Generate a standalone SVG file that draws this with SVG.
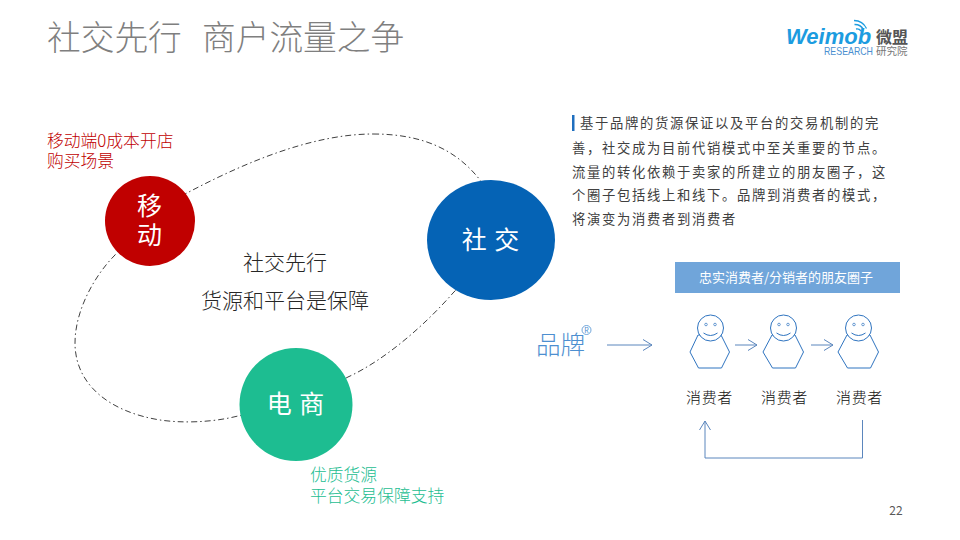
<svg xmlns="http://www.w3.org/2000/svg" width="960" height="540" viewBox="0 0 960 540">
<defs>
<marker id="arr" markerUnits="userSpaceOnUse" markerWidth="12" markerHeight="14" refX="10" refY="6" orient="auto"><path d="M1 0.5L10 6L1 11.5" fill="none" stroke="#5b86bd" stroke-width="1"/></marker>
</defs>
<style>
text{font-family:"Noto Sans CJK SC","Noto Sans",sans-serif}
.body{font-size:13.33px;fill:#404040;letter-spacing:1.67px}
.cap{font-size:15px;fill:#111;text-anchor:middle;letter-spacing:.7px;font-weight:300}
.mid{font-size:21px;fill:#262626;text-anchor:middle;font-weight:300}
.node{font-size:25px;fill:#fff;text-anchor:middle;letter-spacing:1px}
.red{font-size:16.8px;fill:#c00000;font-weight:300}
.grn{font-size:16.8px;fill:#1dbd91;font-weight:300}
.title{font-size:33.7px;fill:#7f7f7f;font-weight:300}
.person{fill:#fff;stroke:#2f74c0;stroke-width:1}
.eye{fill:none;stroke:#2f74c0;stroke-width:.7}
.flow{fill:none;stroke:#5b86bd;stroke-width:1}
.latin{font-family:"Liberation Sans",sans-serif}
</style>
<rect width="960" height="540" fill="#fff"/>
<text class="title" x="47" y="50">社交先行</text>
<text class="title" x="202" y="50">商户流量之争</text>
<g id="logo">
<text class="latin" x="786" y="44" font-size="22" font-weight="700" font-style="italic" fill="#1c9ce0">Weimob</text>
<text x="876" y="43" font-size="16" font-weight="700" fill="#555">微盟</text>
<text class="latin" x="824" y="55" font-size="10.500" fill="#4b8fd0" textLength="49" lengthAdjust="spacingAndGlyphs">RESEARCH</text>
<text x="876" y="55" font-size="10.500" fill="#777">研究院</text>
<path d="M856 29a5 5 0 0 1 5 2M854.500 24.500a10 10 0 0 1 9 5M854 20.500a14 14 0 0 1 12.500 8" fill="none" stroke="#1c9ce0" stroke-width="1.300"/>
</g>
<g id="connectors">
<path d="M373 134C420 134 455 148 480 180C500 220 490 255 453 293C425 325 385 360 348 377C320 392 280 408 238 416C210 423 180 423 160 420C110 412 75 385 75 343C75 310 95 275 115 255C135 228 160 207 187 193C240 165 310 134 373 134Z" fill="none" stroke="#404040" stroke-width="1" stroke-dasharray="6 3 1.500 3"/>
<path class="flow" d="M607 345H652" marker-end="url(#arr)"/>
<path class="flow" d="M735 345H757" marker-end="url(#arr)"/>
<path class="flow" d="M811 345H833" marker-end="url(#arr)"/>
<path class="flow" d="M862.500 420V458H705V421" marker-end="url(#arr)"/>
</g>
<g id="node-mobile"><circle cx="150" cy="221" r="45" fill="#c00000"/><text class="node" x="150" y="215">移</text><text class="node" x="150" y="244">动</text></g>
<g id="node-social"><ellipse cx="491" cy="240" rx="64" ry="60" fill="#0563b5"/><text class="node" x="491" y="249">社 交</text></g>
<g id="node-ecom"><circle cx="296" cy="404.500" r="56.500" fill="#1dbd91"/><text class="node" x="296" y="413">电 商</text></g>
<text class="red" x="47" y="147">移动端0成本开店</text>
<text class="red" x="47" y="167">购买场景</text>
<text class="grn" x="310" y="481">优质货源</text>
<text class="grn" x="310" y="502">平台交易保障支持</text>
<text class="mid" x="285" y="270">社交先行</text>
<text class="mid" x="285" y="308">货源和平台是保障</text>
<rect x="572" y="115" width="2.500" height="16" fill="#1f6fbf"/>
<text class="body" x="580" y="128">基于品牌的货源保证以及平台的交易机制的完</text>
<text class="body" x="572" y="153">善，社交成为目前代销模式中至关重要的节点。</text>
<text class="body" x="572" y="176.500">流量的转化依赖于卖家的所建立的朋友圈子，这</text>
<text class="body" x="572" y="200">个圈子包括线上和线下。品牌到消费者的模式，</text>
<text class="body" x="572" y="223.500">将演变为消费者到消费者</text>
<g id="banner"><rect x="675" y="262" width="225" height="31" fill="#70a5da"/><text x="786" y="282" font-size="13" fill="#fff" text-anchor="middle">忠实消费者/分销者的朋友圈子</text></g>
<g id="brand">
<text x="536" y="354" font-size="24.500" font-weight="300" fill="#4d8fd0">品牌</text>
<circle cx="586.500" cy="330" r="4.500" fill="none" stroke="#4d8fd0" stroke-width=".8"/>
<text x="586.500" y="333" font-size="7" fill="#4d8fd0" text-anchor="middle">R</text>
</g>
<g id="person-1"><path class="person" d="M698 335H721L729.500 352L721.500 368H698.500L690 352Z"/><circle class="person" cx="710.500" cy="328" r="13"/><circle class="eye" cx="706" cy="324.500" r="1.300"/><circle class="eye" cx="715" cy="324.500" r="1.300"/><path class="eye" style="stroke-width:1" d="M703.500 333Q710.500 338 717.500 333"/></g>
<g id="person-2"><path class="person" d="M772 335H795L803.500 352L795.500 368H772.500L763 352Z"/><circle class="person" cx="783.500" cy="328" r="13"/><circle class="eye" cx="779" cy="324.500" r="1.300"/><circle class="eye" cx="788" cy="324.500" r="1.300"/><path class="eye" style="stroke-width:1" d="M776.500 333Q783.500 338 790.500 333"/></g>
<g id="person-3"><path class="person" d="M847 335H870L878.500 352L870.500 368H847.500L838 352Z"/><circle class="person" cx="858.500" cy="328" r="13"/><circle class="eye" cx="854" cy="324.500" r="1.300"/><circle class="eye" cx="863" cy="324.500" r="1.300"/><path class="eye" style="stroke-width:1" d="M851.500 333Q858.500 338 865.500 333"/></g>
<text class="cap" x="709.500" y="403">消费者</text>
<text class="cap" x="784.500" y="403">消费者</text>
<text class="cap" x="859.500" y="403">消费者</text>
<text x="896" y="515" font-size="12" fill="#595959" text-anchor="middle">22</text>
</svg>
